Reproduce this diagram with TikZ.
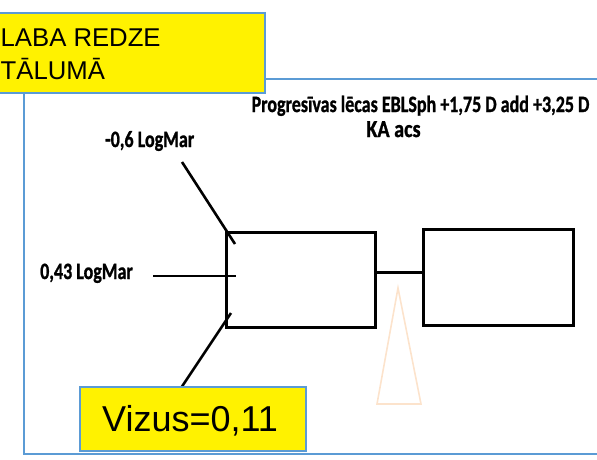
\documentclass[tikz,border=0pt]{standalone}
\usepackage{fontspec}
\setmainfont{Liberation Sans}
\newfontfamily\calib[BoldFeatures={FakeBold=1.2}]{Carlito}
\definecolor{frameblue}{HTML}{5B9BD5}
\definecolor{peach}{HTML}{FCE3CC}
\begin{document}
\begin{tikzpicture}[x=1pt,y=-1pt,
  lbl/.style={inner sep=0pt,anchor=base west,font=\calib\bfseries\fontsize{18}{18}\selectfont},
  yellowbox/.style={draw=frameblue,line width=1.8pt,fill=yellow,inner sep=0pt},
  lensbox/.style={draw=black,line width=3pt,inner sep=0pt},
  pointer/.style={draw=black,line width=2.6pt},
]
\useasboundingbox (0,0) rectangle (597,460);
% outer frame
\draw[frameblue,line width=2pt] (605,79) -- (24,79) -- (24,454) -- (605,454);
% lens boxes
\node[lensbox,minimum width=149pt,minimum height=95pt] (b1) at (300.5,279.5) {};
\node[lensbox,minimum width=150pt,minimum height=96pt] (b2) at (498,277) {};
\coordinate (c1) at (375,272);
\coordinate (c2) at (423,272);
\draw[line width=3pt] (c1) -- (c2);
% triangle
\coordinate (t1) at (398,288);
\coordinate (t2) at (377,404);
\coordinate (t3) at (421,404);
\draw[peach,line width=1.6pt] (t1) -- (t2) -- (t3) -- cycle;
% labels
\node[lbl] (l1) at (105,147) {\scalebox{1}[1.3]{-0,6 LogMar}};
\node[lbl] (l2) at (40,279) {\scalebox{1}[1.3]{0,43 LogMar}};
\node[lbl,anchor=base] (t) at (420.5,112) {\scalebox{1}[1.3]{Progresīvas lēcas EBLSph +1,75 D add +3,25 D}};
\node[lbl,anchor=base] (ka) at (393.5,137) {\scalebox{1.12}[1.35]{KA acs}};
% pointers
\coordinate (p1a) at (182,162);
\coordinate (p1b) at (235,244);
\coordinate (p2a) at (153,276);
\coordinate (p2b) at (236,276);
\coordinate (p3a) at (231,313);
\coordinate (p3b) at (181,388);
\draw[pointer] (p1a) -- (p1b);
\draw[pointer] (p2a) -- (p2b);
\draw[pointer] (p3a) -- (p3b);
% yellow boxes
\node[yellowbox,minimum width=275pt,minimum height=80pt] (y1) at (127.5,53) {};
\node[inner sep=0pt,anchor=base west,font=\fontsize{25.7}{25.7}\selectfont] (y1a) at (0.5,46.7) {LABA REDZE};
\node[inner sep=0pt,anchor=base west,font=\fontsize{25.7}{25.7}\selectfont] (y1b) at (0.5,79.3) {TĀLUMĀ};
\node[yellowbox,minimum width=226pt,minimum height=64pt] (y2) at (193,419) {};
\node[inner sep=0pt,anchor=base west,font=\fontsize{36}{36}\selectfont] (v) at (102,431.7) {Vizus=0,11};
\end{tikzpicture}
\end{document}
